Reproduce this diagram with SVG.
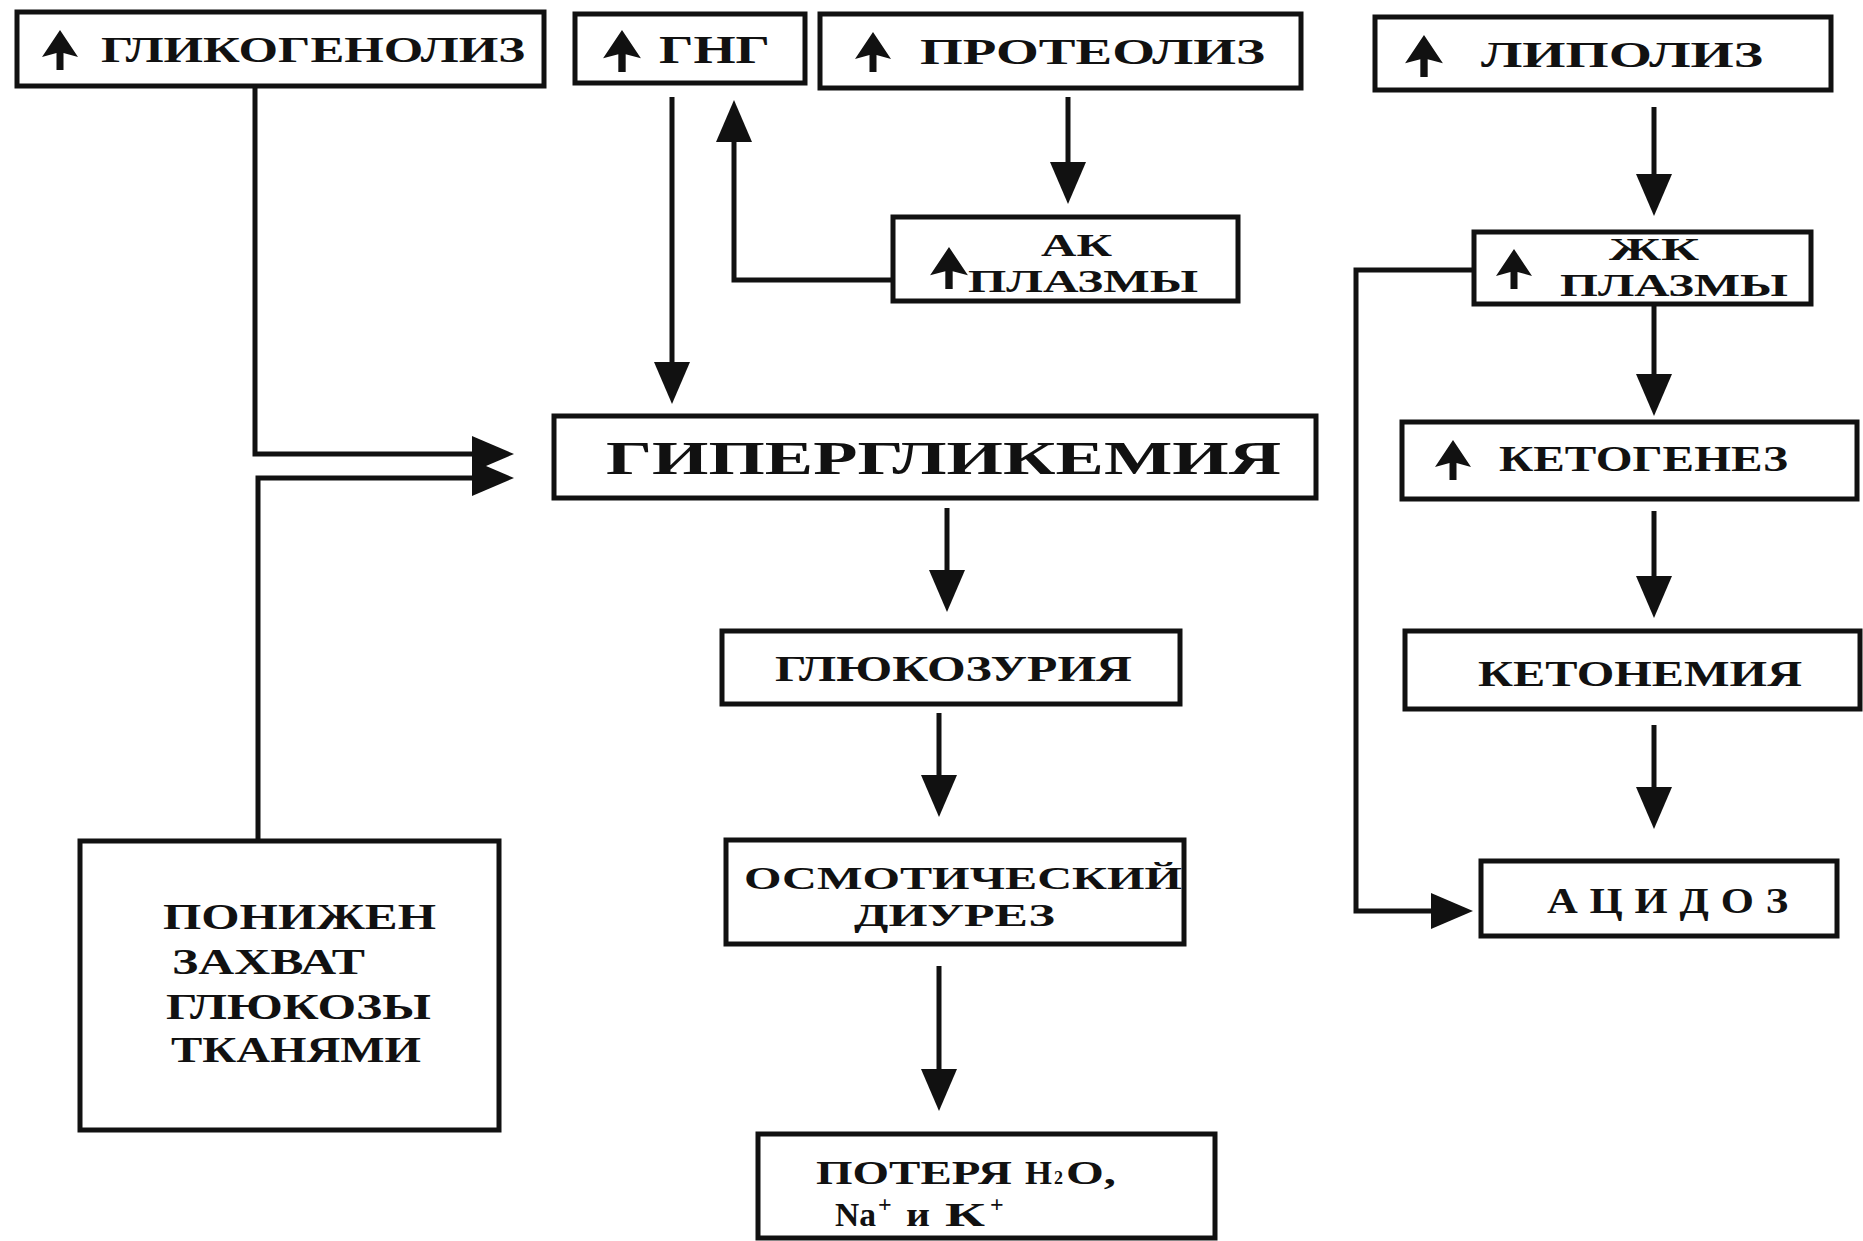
<svg xmlns="http://www.w3.org/2000/svg" xmlns:xlink="http://www.w3.org/1999/xlink" width="1863" height="1241" viewBox="0 0 1863 1241">
<style>
.box{fill:#fff;stroke:#111;stroke-width:5}
.t{font-family:"Liberation Serif","Times New Roman",serif;font-weight:bold;fill:#111;font-size:36px}
.big{font-size:46px}
.med{font-size:34px}
.sm{font-size:31px}
.c{fill:none;stroke:#111;stroke-width:5}
</style>
<defs>
<marker id="ah" markerWidth="42" markerHeight="36" refX="12" refY="18" orient="auto" markerUnits="userSpaceOnUse">
<path d="M0,0 L42,18 L0,36 Z" fill="#111"/>
</marker>
<symbol id="up" viewBox="0 0 36 40">
<path d="M18,0 L36,27 L21.5,23 L21.5,40 L14.5,40 L14.5,23 L0,27 Z" fill="#111"/>
</symbol>
</defs>
<rect width="1863" height="1241" fill="#fff"/>

<g id="connectors">
<path class="c" d="M255,86 V454 H484" marker-end="url(#ah)"/>
<path class="c" d="M258,841 V478 H484" marker-end="url(#ah)"/>
<path class="c" d="M672,97 V374" marker-end="url(#ah)"/>
<path class="c" d="M893,280 H734 V130" marker-end="url(#ah)"/>
<path class="c" d="M1068,97 V174" marker-end="url(#ah)"/>
<path class="c" d="M1654,107 V186" marker-end="url(#ah)"/>
<path class="c" d="M1654,306 V386" marker-end="url(#ah)"/>
<path class="c" d="M1654,511 V588" marker-end="url(#ah)"/>
<path class="c" d="M1654,725 V799" marker-end="url(#ah)"/>
<path class="c" d="M1474,270 H1356 V911 H1443" marker-end="url(#ah)"/>
<path class="c" d="M947,508 V582" marker-end="url(#ah)"/>
<path class="c" d="M939,713 V787" marker-end="url(#ah)"/>
<path class="c" d="M939,966 V1081" marker-end="url(#ah)"/>
</g>

<g id="glycogenolysis">
<rect class="box" x="17" y="12" width="527" height="74"/>
<use xlink:href="#up" x="42" y="30" width="36" height="40"/>
<text class="t" x="101" y="62" textLength="424" lengthAdjust="spacingAndGlyphs">ГЛИКОГЕНОЛИЗ</text>
</g>

<g id="gng">
<rect class="box" x="575" y="14" width="230" height="69"/>
<use xlink:href="#up" x="603" y="30" width="38" height="42"/>
<text class="t" x="659" y="63" textLength="111" lengthAdjust="spacingAndGlyphs" style="font-size:40px">ГНГ</text>
</g>

<g id="proteolysis">
<rect class="box" x="820" y="14" width="481" height="74"/>
<use xlink:href="#up" x="855" y="32" width="36" height="40"/>
<text class="t" x="920" y="64" textLength="345" lengthAdjust="spacingAndGlyphs">ПРОТЕОЛИЗ</text>
</g>

<g id="lipolysis">
<rect class="box" x="1375" y="17" width="456" height="73"/>
<use xlink:href="#up" x="1405" y="35" width="38" height="42"/>
<text class="t" x="1481" y="67" textLength="282" lengthAdjust="spacingAndGlyphs">ЛИПОЛИЗ</text>
</g>

<g id="amino-acids">
<rect class="box" x="893" y="217" width="345" height="84"/>
<use xlink:href="#up" x="930" y="247" width="38" height="42"/>
<text class="t sm" x="1041" y="256" textLength="71" lengthAdjust="spacingAndGlyphs">АК</text>
<text class="t sm" x="968" y="292" textLength="230" lengthAdjust="spacingAndGlyphs">ПЛАЗМЫ</text>
</g>

<g id="fatty-acids">
<rect class="box" x="1474" y="232" width="337" height="72"/>
<use xlink:href="#up" x="1495" y="249" width="38" height="40"/>
<text class="t sm" x="1609" y="260" textLength="90" lengthAdjust="spacingAndGlyphs">ЖК</text>
<text class="t sm" x="1560" y="296" textLength="228" lengthAdjust="spacingAndGlyphs">ПЛАЗМЫ</text>
</g>

<g id="hyperglycemia">
<rect class="box" x="554" y="416" width="762" height="82"/>
<text class="t big" x="606" y="474" textLength="675" lengthAdjust="spacingAndGlyphs">ГИПЕРГЛИКЕМИЯ</text>
</g>

<g id="ketogenesis">
<rect class="box" x="1402" y="422" width="455" height="77"/>
<use xlink:href="#up" x="1434" y="440" width="38" height="40"/>
<text class="t" x="1499" y="471" textLength="289" lengthAdjust="spacingAndGlyphs">КЕТОГЕНЕЗ</text>
</g>

<g id="glucosuria">
<rect class="box" x="722" y="631" width="458" height="73"/>
<text class="t" x="775" y="681" textLength="357" lengthAdjust="spacingAndGlyphs">ГЛЮКОЗУРИЯ</text>
</g>

<g id="ketonemia">
<rect class="box" x="1405" y="631" width="455" height="78"/>
<text class="t" x="1478" y="686" textLength="324" lengthAdjust="spacingAndGlyphs">КЕТОНЕМИЯ</text>
</g>

<g id="osmotic-diuresis">
<rect class="box" x="726" y="840" width="458" height="104"/>
<text class="t sm" x="744" y="889" textLength="438" lengthAdjust="spacingAndGlyphs">ОСМОТИЧЕСКИЙ</text>
<text class="t sm" x="854" y="926" textLength="201" lengthAdjust="spacingAndGlyphs">ДИУРЕЗ</text>
</g>

<g id="acidosis">
<rect class="box" x="1481" y="861" width="356" height="75"/>
<text class="t" x="1547" y="913" textLength="253" lengthAdjust="spacingAndGlyphs" letter-spacing="10">АЦИДОЗ</text>
</g>

<g id="reduced-uptake">
<rect class="box" x="80" y="841" width="419" height="289"/>
<text class="t" x="163" y="929" textLength="273" lengthAdjust="spacingAndGlyphs">ПОНИЖЕН</text>
<text class="t" x="172" y="974" textLength="193" lengthAdjust="spacingAndGlyphs">ЗАХВАТ</text>
<text class="t" x="166" y="1019" textLength="265" lengthAdjust="spacingAndGlyphs">ГЛЮКОЗЫ</text>
<text class="t" x="171" y="1062" textLength="250" lengthAdjust="spacingAndGlyphs">ТКАНЯМИ</text>
</g>

<g id="loss">
<rect class="box" x="758" y="1134" width="457" height="104"/>
<text class="t med" x="816" y="1184" textLength="196" lengthAdjust="spacingAndGlyphs">ПОТЕРЯ</text>
<text class="t med" x="1025" y="1184" textLength="27" lengthAdjust="spacingAndGlyphs">Н</text>
<text class="t" x="1054" y="1184" style="font-size:18px">2</text>
<text class="t med" x="1066" y="1184" textLength="50" lengthAdjust="spacingAndGlyphs">О,</text>
<text class="t med" x="835" y="1226" textLength="41" lengthAdjust="spacingAndGlyphs">Na</text>
<text class="t" x="878" y="1212" style="font-size:24px">+</text>
<text class="t med" x="906" y="1226" textLength="24" lengthAdjust="spacingAndGlyphs">и</text>
<text class="t med" x="945" y="1226" textLength="40" lengthAdjust="spacingAndGlyphs">К</text>
<text class="t" x="990" y="1212" style="font-size:24px">+</text>
</g>
</svg>
